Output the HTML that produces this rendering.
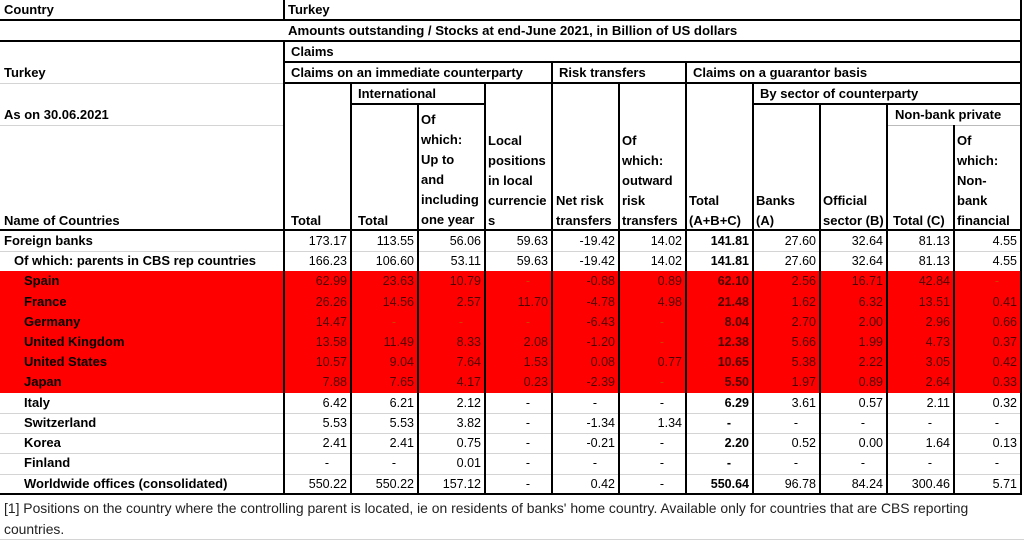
<!DOCTYPE html>
<html><head><meta charset="utf-8">
<style>
*{margin:0;padding:0;box-sizing:border-box}
body{width:1024px;height:540px;background:#fff;position:relative;overflow:hidden;font-family:"Liberation Sans",Arial,sans-serif;color:#000}
.t{position:absolute;white-space:nowrap;line-height:20px;font-weight:bold;font-size:13px}
.h{position:absolute;background:#000;height:2px}
.g{position:absolute;background:#d4d4d4;height:1px}
.v{position:absolute;background:#000;width:2px}
.r{position:absolute;left:0;width:1022px;height:20px;line-height:20px;font-size:12.5px}
.r span{position:absolute;top:0;width:67px;text-align:right;padding-right:4px}
.r span.d{padding-right:22px}
.r .n{left:4px;font-weight:bold;font-size:13px;text-align:left;width:280px}
.r .i1{left:14px}.r .i2{left:24px}
.c1{left:284px}.c2{left:351px}.c3{left:418px}.c4{left:485px}.c5{left:552px}.c6{left:619px}.c7{left:686px;font-weight:bold}.c8{left:753px}.c9{left:820px}.c10{left:887px}.c11{left:954px}
.red span{color:#500000}
.red span.n{color:#000}
.red span.d{color:#d04000}
</style></head><body>
<div style="position:absolute;left:0;top:271px;width:1022px;height:122px;background:#ff0000"></div>

<div class="h" style="left:0;top:19px;width:1022px;height:1.5px"></div>
<div class="h" style="left:0;top:40px;width:1022px"></div>
<div class="h" style="left:284px;top:61px;width:738px"></div>
<div class="g" style="left:0;top:83px;width:284px"></div>
<div class="h" style="left:284px;top:82px;width:738px"></div>
<div class="h" style="left:351px;top:103px;width:135px"></div>
<div class="h" style="left:753px;top:103px;width:269px"></div>
<div class="g" style="left:0;top:125px;width:284px"></div>
<div class="g" style="left:887px;top:125px;width:135px;background:#bbb"></div>
<div class="h" style="left:0;top:229px;width:1022px"></div>
<div class="g" style="left:0;top:251px;width:1022px"></div>
<div class="g" style="left:0;top:413px;width:1022px"></div>
<div class="g" style="left:0;top:433px;width:1022px"></div>
<div class="g" style="left:0;top:453px;width:1022px"></div>
<div class="g" style="left:0;top:474px;width:1022px"></div>
<div class="h" style="left:0;top:493px;width:1022px"></div>
<div class="g" style="left:0;top:539px;width:1024px"></div>

<div class="v" style="left:283px;top:0;height:20px"></div>
<div class="v" style="left:283px;top:41px;height:454px"></div>
<div class="v" style="left:350px;top:83px;height:412px"></div>
<div class="v" style="left:417px;top:104px;height:391px"></div>
<div class="v" style="left:484px;top:83px;height:412px"></div>
<div class="v" style="left:551px;top:62px;height:433px"></div>
<div class="v" style="left:618px;top:83px;height:412px"></div>
<div class="v" style="left:685px;top:62px;height:433px"></div>
<div class="v" style="left:752px;top:83px;height:412px"></div>
<div class="v" style="left:819px;top:104px;height:391px"></div>
<div class="v" style="left:886px;top:104px;height:391px"></div>
<div class="v" style="left:953px;top:125px;height:370px"></div>
<div class="v" style="left:1020px;top:0;height:495px"></div>

<div class="t" style="left:4px;top:0">Country</div>
<div class="t" style="left:288px;top:0">Turkey</div>
<div class="t" style="left:288px;top:21px;font-size:13.2px">Amounts outstanding / Stocks at end-June 2021, in Billion of US dollars</div>
<div class="t" style="left:291px;top:42px">Claims</div>
<div class="t" style="left:4px;top:63px">Turkey</div>
<div class="t" style="left:291px;top:63px">Claims on an immediate counterparty</div>
<div class="t" style="left:559px;top:63px">Risk transfers</div>
<div class="t" style="left:693px;top:63px">Claims on a guarantor basis</div>
<div class="t" style="left:358px;top:84px">International</div>
<div class="t" style="left:760px;top:84px">By sector of counterparty</div>
<div class="t" style="left:4px;top:105px">As on 30.06.2021</div>
<div class="t" style="left:895px;top:105px">Non-bank private</div>
<div class="t" style="left:4px;top:211px">Name of Countries</div>
<div class="t" style="left:291px;top:211px">Total</div>
<div class="t" style="left:358px;top:211px">Total</div>
<div class="t" style="left:421px;top:110px"> Of<br>which:<br>Up to<br>and<br>including<br>one year</div>
<div class="t" style="left:488px;top:131px"> Local<br>positions<br>in local<br>currencie<br>s</div>
<div class="t" style="left:556px;top:191px">Net risk<br>transfers</div>
<div class="t" style="left:622px;top:131px"> Of<br>which:<br>outward<br>risk<br>transfers</div>
<div class="t" style="left:689px;top:191px"> Total<br>(A+B+C)</div>
<div class="t" style="left:756px;top:191px"> Banks<br>(A)</div>
<div class="t" style="left:823px;top:191px"> Official<br>sector (B)</div>
<div class="t" style="left:893px;top:211px">Total (C)</div>
<div class="t" style="left:957px;top:131px"> Of<br>which:<br>Non-<br>bank<br>financial</div>

<div class="r" style="top:231px"><span class="n">Foreign banks</span><span class="c1">173.17</span><span class="c2">113.55</span><span class="c3">56.06</span><span class="c4">59.63</span><span class="c5">-19.42</span><span class="c6">14.02</span><span class="c7">141.81</span><span class="c8">27.60</span><span class="c9">32.64</span><span class="c10">81.13</span><span class="c11">4.55</span></div>
<div class="r" style="top:251px"><span class="n i1">Of which: parents in CBS rep countries</span><span class="c1">166.23</span><span class="c2">106.60</span><span class="c3">53.11</span><span class="c4">59.63</span><span class="c5">-19.42</span><span class="c6">14.02</span><span class="c7">141.81</span><span class="c8">27.60</span><span class="c9">32.64</span><span class="c10">81.13</span><span class="c11">4.55</span></div>
<div class="r red" style="top:271px"><span class="n i2">Spain</span><span class="c1">62.99</span><span class="c2">23.63</span><span class="c3">10.79</span><span class="c4 d">-</span><span class="c5">-0.88</span><span class="c6">0.89</span><span class="c7">62.10</span><span class="c8">2.56</span><span class="c9">16.71</span><span class="c10">42.84</span><span class="c11 d">-</span></div>
<div class="r red" style="top:292px"><span class="n i2">France</span><span class="c1">26.26</span><span class="c2">14.56</span><span class="c3">2.57</span><span class="c4">11.70</span><span class="c5">-4.78</span><span class="c6">4.98</span><span class="c7">21.48</span><span class="c8">1.62</span><span class="c9">6.32</span><span class="c10">13.51</span><span class="c11">0.41</span></div>
<div class="r red" style="top:312px"><span class="n i2">Germany</span><span class="c1">14.47</span><span class="c2 d">-</span><span class="c3 d">-</span><span class="c4 d">-</span><span class="c5">-6.43</span><span class="c6 d">-</span><span class="c7">8.04</span><span class="c8">2.70</span><span class="c9">2.00</span><span class="c10">2.96</span><span class="c11">0.66</span></div>
<div class="r red" style="top:332px"><span class="n i2">United Kingdom</span><span class="c1">13.58</span><span class="c2">11.49</span><span class="c3">8.33</span><span class="c4">2.08</span><span class="c5">-1.20</span><span class="c6 d">-</span><span class="c7">12.38</span><span class="c8">5.66</span><span class="c9">1.99</span><span class="c10">4.73</span><span class="c11">0.37</span></div>
<div class="r red" style="top:352px"><span class="n i2">United States</span><span class="c1">10.57</span><span class="c2">9.04</span><span class="c3">7.64</span><span class="c4">1.53</span><span class="c5">0.08</span><span class="c6">0.77</span><span class="c7">10.65</span><span class="c8">5.38</span><span class="c9">2.22</span><span class="c10">3.05</span><span class="c11">0.42</span></div>
<div class="r red" style="top:372px"><span class="n i2">Japan</span><span class="c1">7.88</span><span class="c2">7.65</span><span class="c3">4.17</span><span class="c4">0.23</span><span class="c5">-2.39</span><span class="c6 d">-</span><span class="c7">5.50</span><span class="c8">1.97</span><span class="c9">0.89</span><span class="c10">2.64</span><span class="c11">0.33</span></div>
<div class="r" style="top:393px"><span class="n i2">Italy</span><span class="c1">6.42</span><span class="c2">6.21</span><span class="c3">2.12</span><span class="c4 d">-</span><span class="c5 d">-</span><span class="c6 d">-</span><span class="c7">6.29</span><span class="c8">3.61</span><span class="c9">0.57</span><span class="c10">2.11</span><span class="c11">0.32</span></div>
<div class="r" style="top:413px"><span class="n i2">Switzerland</span><span class="c1">5.53</span><span class="c2">5.53</span><span class="c3">3.82</span><span class="c4 d">-</span><span class="c5">-1.34</span><span class="c6">1.34</span><span class="c7 d">-</span><span class="c8 d">-</span><span class="c9 d">-</span><span class="c10 d">-</span><span class="c11 d">-</span></div>
<div class="r" style="top:433px"><span class="n i2">Korea</span><span class="c1">2.41</span><span class="c2">2.41</span><span class="c3">0.75</span><span class="c4 d">-</span><span class="c5">-0.21</span><span class="c6 d">-</span><span class="c7">2.20</span><span class="c8">0.52</span><span class="c9">0.00</span><span class="c10">1.64</span><span class="c11">0.13</span></div>
<div class="r" style="top:453px"><span class="n i2">Finland</span><span class="c1 d">-</span><span class="c2 d">-</span><span class="c3">0.01</span><span class="c4 d">-</span><span class="c5 d">-</span><span class="c6 d">-</span><span class="c7 d">-</span><span class="c8 d">-</span><span class="c9 d">-</span><span class="c10 d">-</span><span class="c11 d">-</span></div>
<div class="r" style="top:474px"><span class="n i2">Worldwide offices (consolidated)</span><span class="c1">550.22</span><span class="c2">550.22</span><span class="c3">157.12</span><span class="c4 d">-</span><span class="c5">0.42</span><span class="c6 d">-</span><span class="c7">550.64</span><span class="c8">96.78</span><span class="c9">84.24</span><span class="c10">300.46</span><span class="c11">5.71</span></div>

<div style="position:absolute;left:4px;top:498px;width:1000px;font-size:13.9px;line-height:21px;color:#222">[1] Positions on the country where the controlling parent is located, ie on residents of banks' home country. Available only for countries that are CBS reporting countries.</div>
</body></html>
